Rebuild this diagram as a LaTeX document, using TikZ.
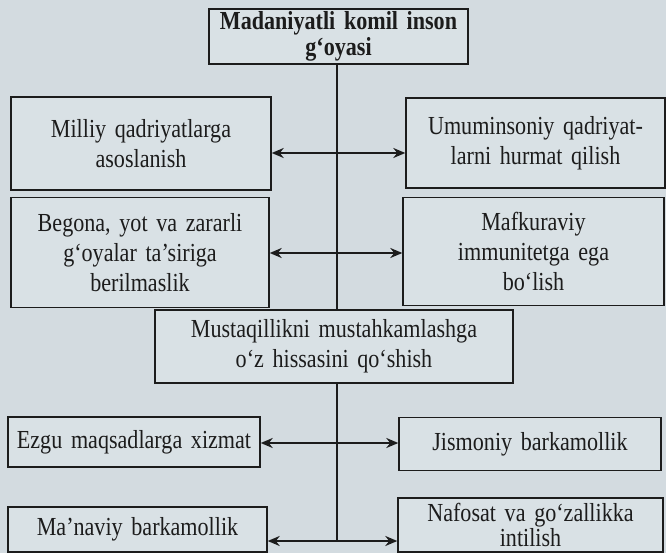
\documentclass[tikz,border=0pt]{standalone}
\usepackage{fontspec}
\setmainfont{Liberation Serif}
\newfontfamily\boxfont[FakeStretch=0.85,WordSpace=0.8]{Liberation Serif}
\usepackage{tikz}
\usetikzlibrary{arrows.meta}
\definecolor{pagebg}{RGB}{211,219,224}
\definecolor{boxbg}{RGB}{217,225,229}
\definecolor{inkc}{RGB}{28,28,28}

\begin{document}
\begin{tikzpicture}[x=1pt,y=-1pt,
	box/.style={draw=inkc,line width=1.4pt,fill=boxbg,inner sep=0pt,align=center,
		text=inkc,font=\boxfont\fontsize{26}{30}\selectfont},
	spine/.style={draw=inkc,line width=1.4pt},
	link/.style={draw=inkc,line width=2pt,{Stealth[length=12pt,width=10pt]}-{Stealth[length=12pt,width=10pt]}}]
	\fill[pagebg] (0,0) rectangle (666,553);
	\node (top) at (338.5,36.5) [box,minimum width=259pt,minimum height=55pt,text width=259pt,
		font=\boxfont\bfseries\fontsize{26}{26}\selectfont] {Madaniyatli komil inson\\g‘oyasi};
	\node (l1) at (141,143.5) [box,minimum width=260pt,minimum height=93pt,text width=260pt] {Milliy qadriyatlarga\\asoslanish};
	\node (r1) at (535.5,143) [box,minimum width=259pt,minimum height=90pt,text width=259pt] {Umuminsoniy qadriyat-\\larni hurmat qilish};
	\node (l2) at (140,252.5) [box,minimum width=258pt,minimum height=110pt,text width=258pt] {Begona, yot va zararli\\g‘oyalar ta’siriga\\berilmaslik};
	\node (r2) at (533.5,251.5) [box,minimum width=261pt,minimum height=108pt,text width=261pt] {Mafkuraviy\\immunitetga ega\\bo‘lish};
	\node (mid) at (334,346.5) [box,minimum width=358pt,minimum height=73pt,text width=358pt] {Mustaqillikni mustahkamlashga\\o‘z hissasini qo‘shish};
	\node (l3) at (134,442) [box,minimum width=252pt,minimum height=50pt,text width=252pt] {Ezgu maqsadlarga xizmat};
	\node (r3) at (530,444) [box,minimum width=262pt,minimum height=53pt,text width=262pt] {Jismoniy barkamollik};
	\node (l4) at (137.5,529.5) [box,minimum width=259pt,minimum height=45pt,text width=259pt] {Ma’naviy barkamollik};
	\node (r4) at (530.5,525) [box,minimum width=265pt,minimum height=54pt,text width=265pt,
		font=\boxfont\fontsize{26}{25}\selectfont] {Nafosat va go‘zallikka\\intilish};
	\coordinate (a1) at (337,153);
	\coordinate (a2) at (337,253);
	\coordinate (a3) at (337,443);
	\coordinate (a4) at (337,541);
	\draw[spine] (a1 |- top.south) -- (a1 |- mid.north);
	\draw[spine] (a4 |- mid.south) -- (a4);
	\draw[link] (l1.east |- a1) -- (r1.west |- a1);
	\draw[link] (l2.east |- a2) -- (r2.west |- a2);
	\draw[link] (l3.east |- a3) -- (r3.west |- a3);
	\draw[link] (l4.east |- a4) -- (r4.west |- a4);
\end{tikzpicture}
\end{document}
